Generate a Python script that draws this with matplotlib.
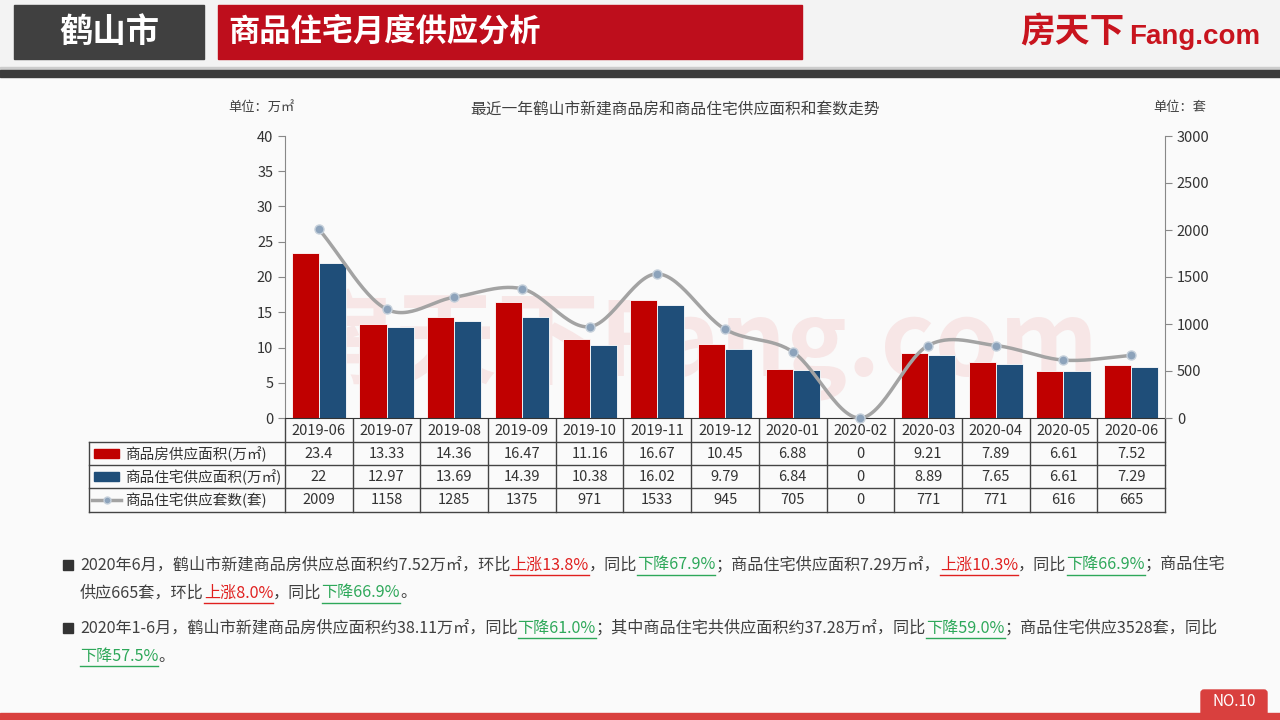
import numpy as np
import matplotlib.pyplot as plt
from matplotlib.patches import Rectangle, FancyBboxPatch
from matplotlib.transforms import blended_transform_factory

plt.rcParams['font.family'] = ['Noto Sans CJK SC', 'DejaVu Sans']

# data
months = ['2019-06', '2019-07', '2019-08', '2019-09', '2019-10', '2019-11', '2019-12',
          '2020-01', '2020-02', '2020-03', '2020-04', '2020-05', '2020-06']
area_all = [23.4, 13.33, 14.36, 16.47, 11.16, 16.67, 10.45, 6.88, 0, 9.21, 7.89, 6.61, 7.52]
area_res = [22, 12.97, 13.69, 14.39, 10.38, 16.02, 9.79, 6.84, 0, 8.89, 7.65, 6.61, 7.29]
units = [2009, 1158, 1285, 1375, 971, 1533, 945, 705, 0, 771, 771, 616, 665]
series_names = ['商品房供应面积(万㎡)', '商品住宅供应面积(万㎡)', '商品住宅供应套数(套)']

RED = '#C00000'
BLUE = '#1F4E79'
GRAY = '#A3A3A3'
TXT = '#404040'
UP = '#E0201F'
DOWN = '#2EA85A'

fig = plt.figure(figsize=(12.8, 7.2), dpi=100)
fig.patch.set_facecolor('#FAFAFA')

# background layer in pixel coords (y down)
bg = fig.add_axes([0, 0, 1, 1], zorder=-1)
bg.set_xlim(0, 1280)
bg.set_ylim(720, 0)
bg.axis('off')

# header
bg.add_patch(Rectangle((0, 0), 1280, 67, color='#F3F3F3'))
bg.add_patch(Rectangle((0, 67), 1280, 3, color='#CCCCCC'))
bg.add_patch(Rectangle((0, 70), 1280, 7, color='#3B3B3B'))
bg.add_patch(Rectangle((14, 5), 190, 54, color='#404040'))
bg.text(109, 32, '鹤山市', color='white', fontsize=24, fontweight='bold', ha='center', va='center')
bg.add_patch(Rectangle((218, 5), 584, 54, color='#BE0E1C'))
bg.text(228, 32, '商品住宅月度供应分析', color='white', fontsize=22.5, fontweight='bold',
        ha='left', va='center')
bg.text(1020, 32, '房天下', color='#C8141E', fontsize=25, fontweight='bold', ha='left', va='center')
bg.text(1129, 37, 'Fang.com', color='#C8141E', fontsize=20, fontweight='bold', ha='left', va='center',
        family=['Liberation Sans', 'DejaVu Sans'])

# footer
bg.add_patch(Rectangle((0, 713), 1280, 7, color='#D9403E'))
bg.add_patch(FancyBboxPatch((1201, 690), 66, 26, boxstyle='round,pad=0,rounding_size=3', color='#D9403E'))
bg.text(1234, 701, 'NO.10', color='white', fontsize=11, ha='center', va='center')

# watermark
bg.text(292, 345, '房天下Fang.com', color='#F7E6E6', fontsize=74, fontweight='bold', style='italic',
        ha='left', va='center')

# chart
ax = fig.add_axes([285 / 1280, 302 / 720, 880 / 1280, 282 / 720])
ax.set_facecolor('none')
x = np.arange(len(months))
w = 0.4
ax.bar(x - 0.2, area_all, w, color=RED, edgecolor='white', linewidth=0.6, zorder=2)
ax.bar(x + 0.2, area_res, w, color=BLUE, edgecolor='white', linewidth=0.6, zorder=2)
ax.set_xlim(-0.5, len(months) - 0.5)
ax.set_ylim(0, 40)
ax.set_yticks(range(0, 41, 5))
ax.set_xticks([])
ax.spines['top'].set_visible(False)
ax.spines['left'].set_color('#888888')
ax.spines['right'].set_visible(False)
ax.spines['bottom'].set_color('#333333')
ax.tick_params(axis='y', colors='#888888', labelcolor='#333333', labelsize=10.5, length=5)

ax2 = ax.twinx()
ax2.set_ylim(0, 3000)
ax2.set_yticks(range(0, 3001, 500))
ax2.spines['top'].set_visible(False)
ax2.spines['left'].set_visible(False)
ax2.spines['bottom'].set_visible(False)
ax2.spines['right'].set_color('#888888')
ax2.tick_params(axis='y', colors='#888888', labelcolor='#333333', labelsize=10.5, length=5)


def smooth(xv, yv, n=30):
    xv = np.asarray(xv, float)
    yv = np.asarray(yv, float)
    m = np.gradient(yv, xv)
    xs, ys = [], []
    for i in range(len(xv) - 1):
        t = np.linspace(0, 1, n)
        h00 = 2 * t**3 - 3 * t**2 + 1
        h10 = t**3 - 2 * t**2 + t
        h01 = -2 * t**3 + 3 * t**2
        h11 = t**3 - t**2
        dx = xv[i + 1] - xv[i]
        xs.append(xv[i] + t * dx)
        ys.append(h00 * yv[i] + h10 * dx * m[i] + h01 * yv[i + 1] + h11 * dx * m[i + 1])
    return np.concatenate(xs), np.clip(np.concatenate(ys), 0, None)


sx, sy = smooth(x, units)
ax2.plot(sx, sy, color=GRAY, lw=2.5, clip_on=False, zorder=3)
ax2.plot(x, units, 'o', ms=6.5, mfc='#8DA3BB', mec='#C4CFDA', mew=1, clip_on=False, zorder=4)

# title and unit labels
bg.text(675, 110, '最近一年鹤山市新建商品房和商品住宅供应面积和套数走势', color='#404040',
        fontsize=11.3, ha='center', va='center')
bg.text(228, 107, '单位：万㎡', color='#404040', fontsize=9.5, ha='left', va='center')
bg.text(1153, 107, '单位：套', color='#404040', fontsize=9.5, ha='left', va='center')

# data table
tr = blended_transform_factory(ax.transData, bg.transData)
left = -0.5 - (285 - 89) / 880 * len(months)
rows_y = [419, 442, 465, 488, 512]
lc = '#444444'
for k in range(len(months) + 1):
    bg.plot([k - 0.5, k - 0.5], [rows_y[0], rows_y[-1]], color=lc, lw=1, transform=tr)
bg.plot([left, left], [rows_y[1], rows_y[-1]], color=lc, lw=1, transform=tr)
for yy in rows_y[1:]:
    bg.plot([left, len(months) - 0.5], [yy, yy], color=lc, lw=1, transform=tr)

row_vals = [area_all, area_res, units]
for i, m in enumerate(months):
    bg.text(i, 431, m, color='#333333', fontsize=10.5, ha='center', va='center', transform=tr)
    for r, vals in enumerate(row_vals):
        bg.text(i, 454 + 23 * r, '{:g}'.format(vals[i]), color='#333333', fontsize=10.5,
                ha='center', va='center', transform=tr)

# legend column
bg.add_patch(Rectangle((94, 449), 25, 9, color=RED))
bg.add_patch(Rectangle((94, 472), 25, 9, color=BLUE))
bg.plot([92, 121], [500, 500], color=GRAY, lw=2.5)
bg.plot([106.5], [500], 'o', ms=5, mfc='#8DA3BB', mec='#C4CFDA')
for r, name in enumerate(series_names):
    bg.text(125, 454 + 23 * r, name, color='#333333', fontsize=10.5, ha='left', va='center')

# commentary
renderer = fig.canvas.get_renderer()


def draw_line(x0, y, segs, fs=11.6):
    xx = x0
    for s, c, u in segs:
        t = bg.text(xx, y, s, color=c, fontsize=fs, ha='left', va='center')
        wpx = t.get_window_extent(renderer).width
        if u:
            bg.plot([xx, xx + wpx], [y + 10, y + 10], color=c, lw=1)
        xx += wpx


lines = [
    (565, [('2020年6月，鹤山市新建商品房供应总面积约7.52万㎡，环比', TXT, False),
           ('上涨13.8%', UP, True), ('，同比', TXT, False), ('下降67.9%', DOWN, True),
           ('；商品住宅供应面积7.29万㎡，', TXT, False), ('上涨10.3%', UP, True),
           ('，同比', TXT, False), ('下降66.9%', DOWN, True), ('；商品住宅', TXT, False)]),
    (593, [('供应665套，环比', TXT, False), ('上涨8.0%', UP, True), ('，同比', TXT, False),
           ('下降66.9%', DOWN, True), ('。', TXT, False)]),
    (628, [('2020年1-6月，鹤山市新建商品房供应面积约38.11万㎡，同比', TXT, False),
           ('下降61.0%', DOWN, True), ('；其中商品住宅共供应面积约37.28万㎡，同比', TXT, False),
           ('下降59.0%', DOWN, True), ('；商品住宅供应3528套，同比', TXT, False)]),
    (656, [('下降57.5%', DOWN, True), ('。', TXT, False)]),
]
for y, segs in lines:
    draw_line(80, y, segs)
for y in (565, 628):
    bg.add_patch(Rectangle((63, y - 5), 10, 10, color='#333333'))

fig.savefig('out.png', dpi=100, facecolor=fig.get_facecolor())
